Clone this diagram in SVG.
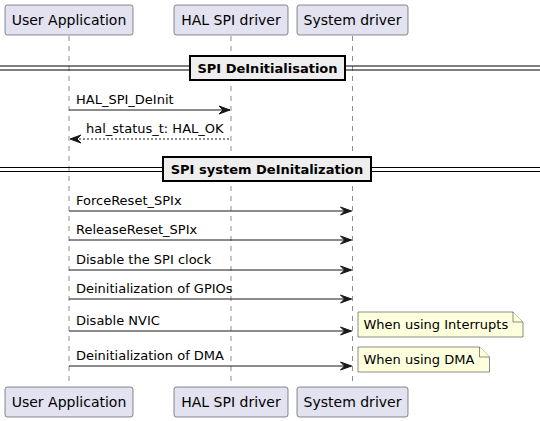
<svg xmlns="http://www.w3.org/2000/svg" width="540" height="421" viewBox="0 0 540 421">
<defs>
<style>
.part{fill:#E2E2F0;stroke:#181818;stroke-width:0.5}
.ptxt{font-family:"DejaVu Sans",sans-serif;font-size:14px;fill:#000}
.life{stroke:#181818;stroke-width:0.5;stroke-dasharray:5,5;fill:none}
.msg{stroke:#181818;stroke-width:1;fill:none}
.ret{stroke:#181818;stroke-width:1;stroke-dasharray:2,2;fill:none}
.mtxt{font-family:"DejaVu Sans",sans-serif;font-size:13px;fill:#000}
.head{fill:#181818;stroke:#181818;stroke-width:1}
.dline{stroke:#000;stroke-width:1}
.dbox{fill:#EEEEEE;stroke:#000;stroke-width:2}
.dtxt{font-family:"DejaVu Sans",sans-serif;font-size:13px;font-weight:bold;fill:#000}
.note{fill:#FEFFDD;stroke:#181818;stroke-width:0.5}
</style>
</defs>
<g id="lifelines">
<line class="life" x1="69" y1="36" x2="69" y2="386"/>
<line class="life" x1="231" y1="36" x2="231" y2="386"/>
<line class="life" x1="352.5" y1="36" x2="352.5" y2="386"/>
</g>
<g id="user-application">
<rect class="part" x="5" y="5" width="128" height="30" rx="2.5"/>
<text class="ptxt" x="69" y="25" text-anchor="middle">User Application</text>
<rect class="part" x="5" y="387" width="128" height="30" rx="2.5"/>
<text class="ptxt" x="69" y="407" text-anchor="middle">User Application</text>
</g>
<g id="hal-spi-driver">
<rect class="part" x="174" y="5" width="114" height="30" rx="2.5"/>
<text class="ptxt" x="231" y="25" text-anchor="middle">HAL SPI driver</text>
<rect class="part" x="174" y="387" width="114" height="30" rx="2.5"/>
<text class="ptxt" x="231" y="407" text-anchor="middle">HAL SPI driver</text>
</g>
<g id="system-driver">
<rect class="part" x="297" y="5" width="111" height="30" rx="2.5"/>
<text class="ptxt" x="352.5" y="25" text-anchor="middle">System driver</text>
<rect class="part" x="297" y="387" width="111" height="30" rx="2.5"/>
<text class="ptxt" x="352.5" y="407" text-anchor="middle">System driver</text>
</g>
<g id="divider-1">
<line class="dline" x1="0" y1="66" x2="540" y2="66"/>
<line class="dline" x1="0" y1="70" x2="540" y2="70"/>
<rect class="dbox" x="190" y="56" width="155" height="24"/>
<text class="dtxt" x="267.5" y="73" text-anchor="middle">SPI DeInitialisation</text>
</g>
<g id="divider-2">
<line class="dline" x1="0" y1="167.5" x2="540" y2="167.5"/>
<line class="dline" x1="0" y1="171.5" x2="540" y2="171.5"/>
<rect class="dbox" x="163" y="157" width="208" height="24"/>
<text class="dtxt" x="267" y="174" text-anchor="middle">SPI system DeInitalization</text>
</g>
<g id="note-interrupts">
<path class="note" d="M358,312 L513,312 L523,322 L523,337 L358,337 Z"/>
<path class="note" d="M513,312 L513,322 L523,322" fill="none"/>
<text class="mtxt" x="363.5" y="329">When using Interrupts</text>
</g>
<g id="note-dma">
<path class="note" d="M358,347 L479.5,347 L489.5,357 L489.5,372 L358,372 Z"/>
<path class="note" d="M479.5,347 L479.5,357 L489.5,357" fill="none"/>
<text class="mtxt" x="363.5" y="364">When using DMA</text>
</g>
<g id="connectors">
<line class="msg" x1="69" y1="110" x2="230" y2="110"/>
<polygon class="head" points="219,106 230,110 219,114 223,110"/>
<text class="mtxt" x="76" y="104">HAL_SPI_DeInit</text>
<line class="ret" x1="71" y1="139" x2="231" y2="139"/>
<polygon class="head" points="81,135 70,139 81,143 77,139"/>
<text class="mtxt" x="86" y="133">hal_status_t: HAL_OK</text>
<line class="msg" x1="69" y1="211" x2="351.5" y2="211"/>
<polygon class="head" points="340.5,207 351.5,211 340.5,215 344.5,211"/>
<text class="mtxt" x="76" y="205">ForceReset_SPIx</text>
<line class="msg" x1="69" y1="240" x2="351.5" y2="240"/>
<polygon class="head" points="340.5,236 351.5,240 340.5,244 344.5,240"/>
<text class="mtxt" x="76" y="234">ReleaseReset_SPIx</text>
<line class="msg" x1="69" y1="270" x2="351.5" y2="270"/>
<polygon class="head" points="340.5,266 351.5,270 340.5,274 344.5,270"/>
<text class="mtxt" x="76" y="264">Disable the SPI clock</text>
<line class="msg" x1="69" y1="299" x2="351.5" y2="299"/>
<polygon class="head" points="340.5,295 351.5,299 340.5,303 344.5,299"/>
<text class="mtxt" x="76" y="293">Deinitialization of GPIOs</text>
<line class="msg" x1="69" y1="331" x2="351.5" y2="331"/>
<polygon class="head" points="340.5,327 351.5,331 340.5,335 344.5,331"/>
<text class="mtxt" x="76" y="325">Disable NVIC</text>
<line class="msg" x1="69" y1="366" x2="351.5" y2="366"/>
<polygon class="head" points="340.5,362 351.5,366 340.5,370 344.5,366"/>
<text class="mtxt" x="76" y="360">Deinitialization of DMA</text>
</g>
</svg>
